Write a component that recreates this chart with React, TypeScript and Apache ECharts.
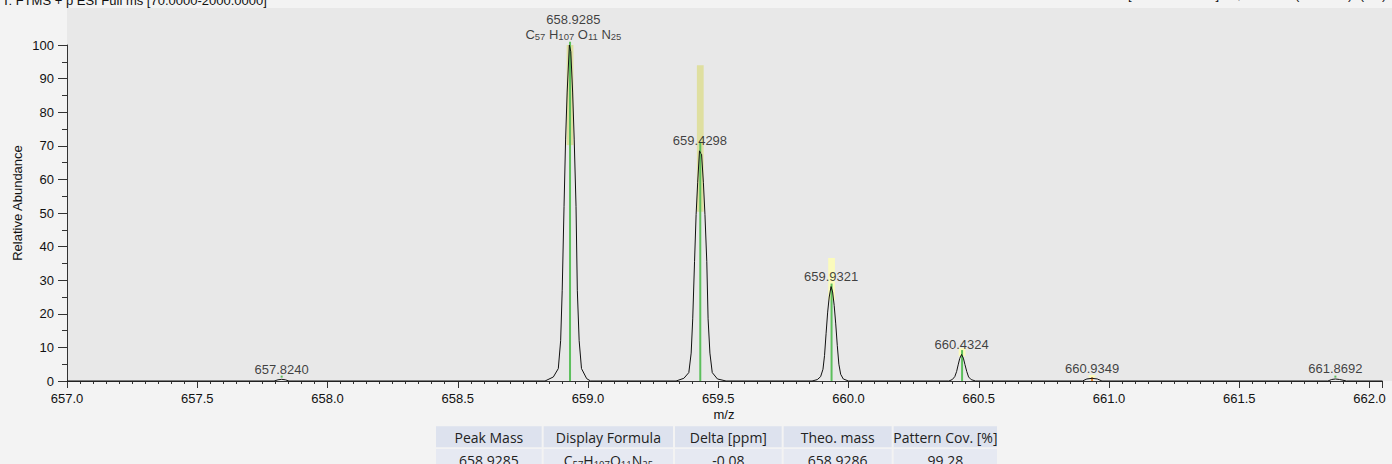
import React, { useEffect, useRef } from "react";
import * as echarts from "echarts";

// ---------- texts ----------
const headerLeft = "T: FTMS + p ESI Full ms [70.0000-2000.0000]";
const headerRight = "[12.356-12.582] 16, NL: 1E5 (2.35E+4)  (1/2)";
const xAxisTitle = "m/z";
const yAxisTitle = "Relative Abundance";

// ---------- axes ----------
const xMin = 657.0;
const xMax = 662.05;
const xInterval = 0.5;
const yMin = 0;
const yMax = 100;
const yInterval = 10;

// ---------- profile spectrum (m/z, relative abundance) ----------
const bump657: [number, number][] = [
  [657.795, 0], [657.81, 0.35], [657.824, 0.5], [657.838, 0.35], [657.852, 0],
];
const peak658: [number, number][] = [
  [658.835, 0], [658.867, 1.2], [658.886, 3.7], [658.895, 12], [658.901, 27],
  [658.908, 52], [658.914, 72], [658.92, 86], [658.9285, 100], [658.934, 98],
  [658.941, 86], [658.947, 72], [658.954, 52], [658.959, 27], [658.966, 12],
  [658.975, 3.7], [658.995, 0.7], [659.01, 0],
];
const peak659a: [number, number][] = [
  [659.338, 0], [659.368, 0.8], [659.387, 2.5], [659.396, 8.3], [659.402, 18.5],
  [659.409, 35.5], [659.415, 49.5], [659.421, 59], [659.428, 68.5], [659.432, 67.8],
  [659.436, 67.5], [659.443, 59], [659.449, 49.5], [659.456, 35.5], [659.461, 18.5],
  [659.468, 8.3], [659.477, 2.5], [659.497, 0.6], [659.53, 0],
];
const peak659b: [number, number][] = [
  [659.86, 0], [659.88, 0.4], [659.893, 1.3], [659.902, 3.5], [659.908, 7.6],
  [659.914, 14.2], [659.92, 20.5], [659.926, 25], [659.933, 28.1], [659.939, 26.5],
  [659.945, 22.5], [659.951, 17], [659.957, 10.5], [659.963, 5], [659.97, 2],
  [659.98, 0.6], [660.0, 0],
];
const peak660a: [number, number][] = [
  [660.385, 0], [660.398, 0.4], [660.408, 1.3], [660.415, 2.8], [660.421, 4.8],
  [660.427, 6.7], [660.434, 7.9], [660.441, 6.8], [660.447, 4.9], [660.454, 2.8],
  [660.461, 1.2], [660.471, 0.4], [660.488, 0],
];
const bump660b: [number, number][] = [
  [660.898, 0], [660.915, 0.6], [660.935, 0.8], [660.955, 0.6], [660.973, 0],
];
const bump661: [number, number][] = [
  [661.84, 0], [661.855, 0.45], [661.869, 0.6], [661.885, 0.45], [661.912, 0],
];

// ---------- theoretical pattern (m/z, low, high) ----------
const patternDark: [number, number, number][] = [
  [658.931, 70.2, 100],
  [659.431, 50.4, 94],
];
const patternBright: [number, number, number][] = [
  [659.935, 24, 36.6],
  [660.436, 7.4, 9.8],
  [660.935, 1.0, 1.8],
];
const centroidSticks: [number, number, number][] = [
  [657.824, 1.0, 1.6],
  [658.931, 0, 101],
  [659.431, 0, 71],
  [659.935, 0, 29],
  [660.436, 0, 9.2],
  [661.869, 1.0, 1.6],
];
const otherSticks: [number, number, number][] = [[660.935, 0, 1.1]];

// ---------- peak labels ----------
const labelTexts = ["657.8240", "658.9285", "659.4298", "659.9321", "660.4324", "660.9349", "661.8692"];
const labelMz = [657.824, 658.9285, 659.4298, 659.933, 660.434, 660.935, 661.869];
const labelHeight = [0.5, 100, 68.5, 28.1, 7.9, 0.8, 0.6];
const formulaParts: [string, string][] = [["C", "57"], ["H", "107"], ["O", "11"], ["N", "25"]];
const formulaPeakIndex = 1;

// ---------- result table ----------
const tableHeaders = ["Peak Mass", "Display Formula", "Delta [ppm]", "Theo. mass", "Pattern Cov. [%]"];
const tableRow = ["658.9285", "FORMULA", "-0.08", "658.9286", "99.28"];

const colEdges = [435, 542.7, 674, 782.7, 892.7, 998];

const FONT = "'Liberation Sans', Arial, sans-serif";
const TFONT = "'Open Sans', 'Noto Sans', sans-serif";

function rangeRenderer(color: string, widthMz: number, lineMode: boolean) {
  return (params: any, api: any) => {
    const mz = api.value(0);
    const lo = api.value(1);
    const hi = api.value(2);
    const top = api.coord([mz, hi]);
    const bot = api.coord([mz, lo]);
    if (lineMode) {
      return {
        type: "line",
        shape: { x1: top[0], y1: top[1], x2: bot[0], y2: bot[1] },
        style: { stroke: color, lineWidth: 2 },
      };
    }
    const w = api.size([widthMz, 0])[0];
    return {
      type: "rect",
      shape: { x: top[0] - w / 2, y: top[1], width: w, height: bot[1] - top[1] },
      style: { fill: color },
    };
  };
}

export default function App() {
  const ref = useRef<HTMLDivElement>(null);

  useEffect(() => {
    if (!ref.current) return;
    const chart = echarts.init(ref.current, undefined, { renderer: "svg" });

    const profile: [number, number][] = [
      [xMin, 0],
      ...bump657,
      ...peak658,
      ...peak659a,
      ...peak659b,
      ...peak660a,
      ...bump660b,
      ...bump661,
      [xMax, 0],
    ];

    const formulaRich = formulaParts.map(([e, n]) => `{e|${e}}{s|${n}}`).join(" ");

    const labelData = labelTexts.map((t, i) => {
      const item: any = { value: [labelMz[i], labelHeight[i]], name: t };
      if (i === formulaPeakIndex) {
        item.label = {
          formatter: `{m|${t}}\n${formulaRich}`,
          offset: [4, 0],
          rich: {
            m: { fontSize: 13, fontFamily: FONT, color: "#111", lineHeight: 15, align: "center" },
            e: { fontSize: 13, fontFamily: FONT, color: "#111", lineHeight: 15 },
            s: { fontSize: 9.5, fontFamily: FONT, color: "#111", lineHeight: 9, verticalAlign: "bottom" },
          },
        };
      }
      return item;
    });

    const graphics: any[] = [
      { type: "rect", z: -10, shape: { x: 0, y: 0, width: 1392, height: 464 }, style: { fill: "#f3f3f3" } },
      { type: "rect", z: -9, shape: { x: 67, y: 8, width: 1325, height: 373 }, style: { fill: "#e8e8e8" } },
      {
        type: "text", x: 2, y: 6.5,
        style: { text: headerLeft, font: `13px ${FONT}`, fill: "#111", verticalAlign: "bottom", textVerticalAlign: "bottom" },
      },
      {
        type: "text", x: 1128, y: 1,
        style: { text: headerRight, font: `13px ${FONT}`, fill: "#111", verticalAlign: "bottom", textVerticalAlign: "bottom" },
      },
      {
        type: "text", x: 17.5, y: 203, rotation: Math.PI / 2,
        style: { text: yAxisTitle, font: `13px ${FONT}`, fill: "#111", align: "center", textAlign: "center", verticalAlign: "middle", textVerticalAlign: "middle" },
      },
      {
        type: "text", x: 724, y: 414,
        style: { text: xAxisTitle, font: `13px ${FONT}`, fill: "#111", align: "center", textAlign: "center", verticalAlign: "middle", textVerticalAlign: "middle" },
      },
    ];

    const rowTops = [426.3, 449];
    const rowH = 21;
    [tableHeaders, tableRow].forEach((row, r) => {
      row.forEach((cell, c) => {
        const x0 = colEdges[c] + 1;
        const x1 = colEdges[c + 1] - 1;
        graphics.push({
          type: "rect", z: -5,
          shape: { x: x0, y: rowTops[r], width: x1 - x0, height: rowH },
          style: { fill: r === 0 ? "#dde2ee" : "#e6e9f2" },
        });
        const isFormula = cell === "FORMULA";
        graphics.push({
          type: "text", z: -4, x: (x0 + x1) / 2, y: rowTops[r] + rowH / 2 + 1,
          style: isFormula
            ? {
                text: formulaParts.map(([e, n]) => `{n|${e}}{s|${n}}`).join(""),
                rich: {
                  n: { fontSize: 14, fontFamily: TFONT, fill: "#222", color: "#222", lineHeight: 18 },
                  s: { fontSize: 9.5, fontFamily: TFONT, fill: "#222", color: "#222", lineHeight: 10, verticalAlign: "bottom" },
                },
                align: "center", textAlign: "center", verticalAlign: "middle", textVerticalAlign: "middle",
              }
            : {
                text: cell, font: `14px ${TFONT}`, fill: "#222",
                align: "center", textAlign: "center", verticalAlign: "middle", textVerticalAlign: "middle",
              },
        });
      });
    });

    chart.setOption({
      animation: false,
      backgroundColor: "transparent",
      grid: { left: 67, top: 45, right: 1392 - 67 - (xMax - xMin) * 260.5, bottom: 83, containLabel: false },
      xAxis: {
        type: "value",
        min: xMin,
        max: xMax,
        interval: xInterval,
        axisLine: { show: true, onZero: false, lineStyle: { color: "#333", width: 1 } },
        axisTick: { show: true, length: 7, lineStyle: { color: "#333" } },
        minorTick: { show: true, splitNumber: 10, length: 3, lineStyle: { color: "#333" } },
        splitLine: { show: false },
        minorSplitLine: { show: false },
        axisLabel: {
          fontSize: 13, fontFamily: FONT, color: "#111", margin: 11,
          showMaxLabel: false,
          formatter: (v: number) => v.toFixed(1),
        },
      },
      yAxis: {
        type: "value",
        min: yMin,
        max: yMax,
        interval: yInterval,
        axisLine: { show: true, lineStyle: { color: "#333", width: 1 } },
        axisTick: { show: true, length: 9, lineStyle: { color: "#333" } },
        minorTick: { show: true, splitNumber: 2, length: 5, lineStyle: { color: "#333" } },
        splitLine: { show: false },
        minorSplitLine: { show: false },
        axisLabel: { fontSize: 13, fontFamily: FONT, color: "#111", margin: 13 },
      },
      graphic: { elements: graphics },
      series: [
        {
          type: "custom", name: "pattern-dark", clip: false, z: 2,
          data: patternDark, encode: { x: 0, y: [1, 2] },
          renderItem: rangeRenderer("#dfdfa0", 0.026, false),
        },
        {
          type: "custom", name: "pattern-bright", clip: false, z: 2,
          data: patternBright, encode: { x: 0, y: [1, 2] },
          renderItem: rangeRenderer("#fbfbbc", 0.026, false),
        },
        {
          type: "custom", name: "centroid", clip: false, z: 3,
          data: centroidSticks, encode: { x: 0, y: [1, 2] },
          renderItem: rangeRenderer("#5cbf5c", 0, true),
        },
        {
          type: "custom", name: "other", clip: false, z: 3,
          data: otherSticks, encode: { x: 0, y: [1, 2] },
          renderItem: rangeRenderer("#e0802a", 0, true),
        },
        {
          type: "line", name: "profile", data: profile, symbol: "none", z: 4,
          lineStyle: { color: "#111", width: 1 }, clip: false,
        },
        {
          type: "scatter", name: "labels", data: labelData, symbolSize: 1, z: 5,
          itemStyle: { color: "rgba(0,0,0,0)" },
          label: {
            show: true, position: "top", distance: 3, formatter: "{b}",
            fontSize: 13, fontFamily: FONT, color: "#111",
          },
        },
      ],
    });

    return () => chart.dispose();
  }, []);

  return (
    <div
      ref={ref}
      style={{ position: "fixed", left: 0, top: 0, width: 1392, height: 464, background: "#f3f3f3" }}
    />
  );
}
